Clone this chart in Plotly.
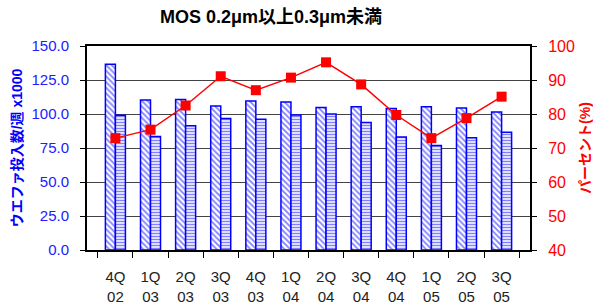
import plotly.graph_objects as go

quarters = ["4Q<br>02", "1Q<br>03", "2Q<br>03", "3Q<br>03", "4Q<br>03", "1Q<br>04",
            "2Q<br>04", "3Q<br>04", "4Q<br>04", "1Q<br>05", "2Q<br>05", "3Q<br>05"]
capacity = [136.5, 110.3, 110.6, 105.9, 109.6, 108.9, 104.7, 105.4, 104.0, 105.4, 104.4, 101.4]
wafers_in = [99.0, 83.5, 91.4, 96.6, 96.1, 99.3, 100.0, 93.8, 83.0, 76.8, 82.5, 86.5]
percent = [72.9, 75.4, 82.5, 91.1, 87.0, 90.7, 95.2, 88.7, 79.7, 72.9, 78.8, 85.1]

left_ticks = [0, 25, 50, 75, 100, 125, 150]
right_ticks = [40, 50, 60, 70, 80, 90, 100]

FONT = "Liberation Sans, Arial, Noto Sans CJK JP, sans-serif"
BLUE = "#0000FF"
RED = "#FF0000"

fig = go.Figure()
fig.add_trace(go.Bar(
    x=quarters, y=capacity, name="capacity",
    marker=dict(color="white", line=dict(color=BLUE, width=1.5),
                pattern=dict(shape="\\", fgcolor=BLUE, bgcolor="white", size=4, solidity=0.45)),
))
fig.add_trace(go.Bar(
    x=quarters, y=wafers_in, name="wafers",
    marker=dict(color="white", line=dict(color=BLUE, width=1.5),
                pattern=dict(shape="-", fgcolor=BLUE, bgcolor="white", size=3, solidity=0.5)),
))
fig.add_trace(go.Scatter(
    x=quarters, y=percent, yaxis="y2", mode="lines+markers",
    line=dict(color=RED, width=1.5),
    marker=dict(symbol="square", size=10, color=RED),
))

fig.update_layout(
    width=593, height=307,
    margin=dict(l=87, r=63, t=46, b=57, autoexpand=False),
    paper_bgcolor="white", plot_bgcolor="white",
    showlegend=False,
    barmode="group", bargap=0.43, bargroupgap=0,
    font=dict(family=FONT),
    title=dict(text="<b>MOS 0.2μm以上0.3μm未満</b>", x=271/593, xref="container", xanchor="center",
               y=1 - 17/307, yref="container", yanchor="middle", font=dict(size=18, color="black")),
    xaxis=dict(
        type="category", tickson="boundaries", ticks="outside", ticklen=6,
        tickcolor="black", showline=True, linecolor="black", linewidth=2, mirror=True,
        showgrid=False, tickfont=dict(size=15, color="#222222"), automargin=False,
        ticklabelstandoff=12,
    ),
    yaxis=dict(
        range=[0, 150], tickvals=left_ticks, ticktext=[f"{v:.1f}" for v in left_ticks],
        ticks="outside", ticklen=5, tickcolor="black",
        showline=True, linecolor="black", linewidth=2,
        showgrid=True, gridcolor="#444444", gridwidth=1, zeroline=False,
        tickfont=dict(size=15, color="#2020FF"), automargin=False, ticklabelstandoff=8,
        title=dict(text="<b>ウエファ投入数/週 x1000</b>", font=dict(size=14, color=BLUE), standoff=6),
    ),
    yaxis2=dict(
        range=[40, 100], tickvals=right_ticks, overlaying="y", side="right",
        ticks="outside", ticklen=5, tickcolor="black",
        showline=True, linecolor="black", linewidth=2,
        showgrid=False, zeroline=False,
        tickfont=dict(size=16, color=RED), automargin=False, ticklabelstandoff=8,
        title=dict(text="<b>パーセント(%)</b>", font=dict(size=14, color=RED), standoff=6),
    ),
)

fig.write_html("out.html", config={"displayModeBar": False},
               post_script="document.body.style.margin='0';")
